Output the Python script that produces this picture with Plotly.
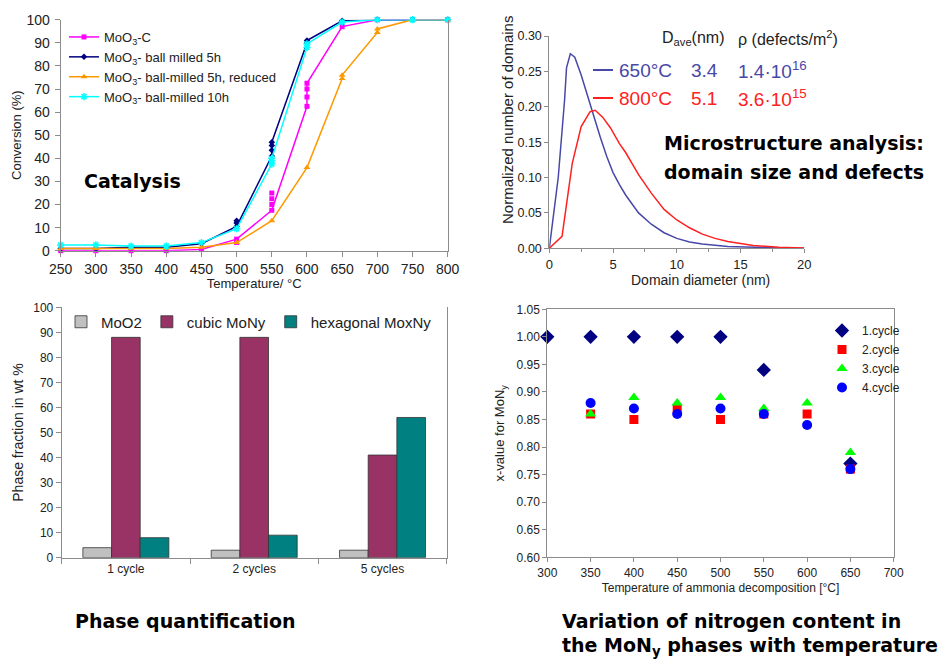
import plotly.graph_objects as go

# ---------------- Data ----------------
# Panel 1: catalysis (conversion % vs temperature)
moo3c_T = [250, 300, 350, 400, 450, 500, 550, 600, 600, 650, 700, 750, 800]
moo3c_Y = [0, 0, 0, 0, 0.5, 5, 17.5, 62.5, 72.5, 97, 100, 100, 100]
moo3c_rep_T = [500, 550, 550, 550, 600, 600]
moo3c_rep_Y = [3.5, 20, 22.5, 25, 66.5, 70]

bm5_T = [250, 300, 350, 400, 450, 500, 550, 550, 600, 600, 650, 700, 750, 800]
bm5_Y = [1, 1, 1.5, 1.5, 3, 10.5, 41, 47, 90, 91, 99.5, 100, 100, 100]
bm5_rep_T = [500, 500, 550, 550]
bm5_rep_Y = [12, 13, 43.5, 45.5]

bm5red_T = [250, 300, 350, 400, 450, 500, 550, 600, 650, 650, 700, 700, 750, 800]
bm5red_Y = [1, 1, 1, 1, 1.5, 3.5, 13, 36, 74.5, 76, 94.5, 96, 100, 100]

bm10_T = [250, 300, 350, 400, 450, 500, 550, 550, 600, 600, 650, 700, 750, 800]
bm10_Y = [2.5, 2.5, 2, 2, 3.5, 9.5, 37.5, 40, 88, 89.5, 99, 100, 100, 100]
bm10_rep_T = [550]
bm10_rep_Y = [39]

# Panel 2: domain size distributions
d_650 = [0, 0.7, 1.2, 1.35, 1.65, 2.0, 2.5, 3, 3.5, 4, 4.5, 5, 5.5, 6, 7, 8, 9, 10, 11, 12, 14, 16, 18, 20]
n_650 = [0, 0.10, 0.21, 0.255, 0.275, 0.27, 0.245, 0.215, 0.185, 0.157, 0.13, 0.107, 0.09, 0.075,
         0.05, 0.034, 0.022, 0.014, 0.009, 0.006, 0.0025, 0.001, 0.0004, 0.0001]
d_800 = [0, 1.0, 1.8, 2.5, 3.2, 3.6, 4.2, 4.8, 5.5, 6, 7, 8, 9, 10, 11, 12, 13, 14, 16, 18, 20]
n_800 = [0, 0.017, 0.12, 0.172, 0.193, 0.195, 0.185, 0.17, 0.148, 0.135, 0.104, 0.078, 0.055,
         0.04, 0.029, 0.02, 0.014, 0.0095, 0.004, 0.0015, 0.0005]

# Panel 3: phase quantification
phase_cats = ["1 cycle", "2 cycles", "5 cycles"]
moo2 = [4, 3, 3]
cubic_mony = [88, 88, 41]
hex_moxny = [8, 9, 56]

# Panel 4: nitrogen content
n_temps = [300, 350, 400, 450, 500, 550, 600, 650]
cycle1 = [1.00, 1.00, 1.00, 1.00, 1.00, 0.94, None, 0.77]
cycle2 = [None, 0.86, 0.85, 0.87, 0.85, 0.86, 0.86, 0.76]
cycle3 = [None, 0.86, 0.89, 0.88, 0.89, 0.87, 0.88, 0.79]
cycle4 = [None, 0.88, 0.87, 0.86, 0.87, 0.86, 0.84, 0.76]

# ---------------- Helpers ----------------
W, H = 952, 661
def fx(p):
    return p / W
def fy(p):
    return 1 - p / H

FONT = "Liberation Sans, Arial, sans-serif"
BOLD = "DejaVu Sans, Verdana, sans-serif"
AX = "#8c8c8c"
TXT = "#222222"

fig = go.Figure()

# ---------------- Panel 1 ----------------
MAG, NAVY, ORG, CYAN = "#ff00ff", "#000080", "#ff9900", "#00ffff"
fig.add_trace(go.Scatter(x=moo3c_T, y=moo3c_Y, mode="lines+markers", name="MoO<sub>3</sub>-C",
                         line=dict(color=MAG, width=1.5), marker=dict(symbol="square", size=5, color=MAG),
                         xaxis="x", yaxis="y", legend="legend", cliponaxis=False))
fig.add_trace(go.Scatter(x=moo3c_rep_T, y=moo3c_rep_Y, mode="markers", showlegend=False,
                         marker=dict(symbol="square", size=5, color=MAG), xaxis="x", yaxis="y"))
fig.add_trace(go.Scatter(x=bm5_T, y=bm5_Y, mode="lines+markers", name="MoO<sub>3</sub>- ball milled 5h",
                         line=dict(color=NAVY, width=1.5), marker=dict(symbol="diamond", size=5, color=NAVY),
                         xaxis="x", yaxis="y", legend="legend", cliponaxis=False))
fig.add_trace(go.Scatter(x=bm5_rep_T, y=bm5_rep_Y, mode="markers", showlegend=False,
                         marker=dict(symbol="diamond", size=5, color=NAVY), xaxis="x", yaxis="y"))
fig.add_trace(go.Scatter(x=bm5red_T, y=bm5red_Y, mode="lines+markers", name="MoO<sub>3</sub>- ball-milled 5h, reduced",
                         line=dict(color=ORG, width=1.5), marker=dict(symbol="triangle-up", size=6, color=ORG),
                         xaxis="x", yaxis="y", legend="legend", cliponaxis=False))
fig.add_trace(go.Scatter(x=bm10_T, y=bm10_Y, mode="lines+markers", name="MoO<sub>3</sub>- ball-milled 10h",
                         line=dict(color=CYAN, width=1.5),
                         marker=dict(symbol="asterisk-open", size=6, color=CYAN, line=dict(color=CYAN, width=1.5)),
                         xaxis="x", yaxis="y", legend="legend", cliponaxis=False))
fig.add_trace(go.Scatter(x=bm10_rep_T, y=bm10_rep_Y, mode="markers", showlegend=False,
                         marker=dict(symbol="asterisk-open", size=6, color=CYAN, line=dict(color=CYAN, width=1.5)),
                         xaxis="x", yaxis="y"))

# ---------------- Panel 2 ----------------
BLUE2, RED2 = "#4848a8", "#ff2020"
fig.add_trace(go.Scatter(x=d_650, y=n_650, mode="lines", line=dict(color=BLUE2, width=1.5),
                         showlegend=False, xaxis="x2", yaxis="y2"))
fig.add_trace(go.Scatter(x=d_800, y=n_800, mode="lines", line=dict(color=RED2, width=1.5),
                         showlegend=False, xaxis="x2", yaxis="y2"))

# ---------------- Panel 3 ----------------
for vals, name, col in [(moo2, "MoO2", "#c0c0c0"), (cubic_mony, "cubic MoNy", "#993366"),
                        (hex_moxny, "hexagonal MoxNy", "#008080")]:
    fig.add_trace(go.Bar(x=phase_cats, y=vals, name=name, marker=dict(color=col, line=dict(color="#333333", width=0.8)),
                         xaxis="x3", yaxis="y3", legend="legend2"))

# ---------------- Panel 4 ----------------
for vals, name, sym, col, sz in [(cycle1, "1.cycle", "diamond", "#000080", 11),
                                 (cycle2, "2.cycle", "square", "#ff0000", 9),
                                 (cycle3, "3.cycle", "triangle-up", "#00ff00", 10),
                                 (cycle4, "4.cycle", "circle", "#0000ff", 10)]:
    fig.add_trace(go.Scatter(x=n_temps, y=vals, mode="markers", name=name,
                             marker=dict(symbol=sym, size=sz, color=col), cliponaxis=False,
                             xaxis="x4", yaxis="y4", legend="legend3"))

# ---------------- Axes ----------------
def axis(domain, **kw):
    d = dict(domain=domain, showgrid=False, zeroline=False, showline=True, linecolor=AX, linewidth=1,
             ticks="outside", tickcolor=AX, ticklen=5, automargin=False,
             tickfont=dict(family=FONT, size=13, color=TXT),
             title_font=dict(family=FONT, size=13, color=TXT))
    d.update(kw)
    return d

fig.update_layout(
    xaxis=axis([fx(60.7), fx(447.7)], range=[250, 800], dtick=50, tick0=250, anchor="y",
               title=dict(text="Temperature/ °C", standoff=2), tickfont=dict(family=FONT, size=14, color=TXT)),
    yaxis=axis([fy(250.7), fy(19.7)], range=[0, 100], dtick=10, anchor="x", mirror=True,
               title=dict(text="Conversion (%)", standoff=1), tickfont=dict(family=FONT, size=14, color=TXT),
               ticklabelstandoff=2),
    xaxis2=axis([fx(549.3), fx(804.3)], range=[0, 20], dtick=5, anchor="y2", ticklen=4,
                minor=dict(ticks="outside", dtick=2.5, ticklen=3, tickcolor=AX)),
    yaxis2=axis([fy(248.3), fy(36)], range=[0, 0.30], dtick=0.05, tickformat=".2f", anchor="x2", ticklen=4,
                tickfont=dict(family=FONT, size=12.5, color=TXT)),
    xaxis3=axis([fx(61.7), fx(446.7)], anchor="y3", tickson="boundaries", type="category",
                tickfont=dict(family=FONT, size=12, color=TXT)),
    yaxis3=axis([fy(557.7), fy(307.3)], range=[0, 100], dtick=10, anchor="x3", mirror=True,
                title=dict(text="Phase fraction in wt %", font=dict(family=FONT, size=14, color=TXT), standoff=6),
                tickfont=dict(family=FONT, size=12, color=TXT)),
    xaxis4=axis([fx(547.3), fx(893.7)], range=[300, 700], dtick=50, anchor="y4", mirror=True, ticklen=4,
                title=dict(text="Temperature of ammonia decomposition [°C]", font=dict(family=FONT, size=12, color=TXT), standoff=4),
                tickfont=dict(family=FONT, size=12, color=TXT)),
    yaxis4=axis([fy(557.3), fy(309.3)], range=[0.60, 1.05], dtick=0.05, tickformat=".2f", anchor="x4", mirror=True,
                ticklen=4, title=dict(text="x-value for MoN<sub>y</sub>", font=dict(family=FONT, size=13, color=TXT), standoff=8),
                tickfont=dict(family=FONT, size=12, color=TXT)),
    barmode="group", bargap=0.33, bargroupgap=0,
    width=W, height=H, margin=dict(l=0, r=0, t=0, b=0, autoexpand=False),
    paper_bgcolor="white", plot_bgcolor="white",
    font=dict(family=FONT, color=TXT),
    legend=dict(x=fx(64), y=fy(22), xanchor="left", yanchor="top", bgcolor="rgba(255,255,255,0)",
                bordercolor="#d0d0d0", borderwidth=0, font=dict(family=FONT, size=13, color=TXT),
                itemwidth=30, tracegroupgap=0),
    legend2=dict(orientation="h", x=fx(61), y=fy(322), xanchor="left", yanchor="middle",
                 bgcolor="rgba(255,255,255,0)", font=dict(family=FONT, size=15, color=TXT)),
    legend3=dict(x=fx(822), y=fy(316), xanchor="left", yanchor="top", bgcolor="rgba(255,255,255,0)",
                 font=dict(family=FONT, size=12, color=TXT)),
)

# ---------------- Annotations ----------------
ann = []
def add_text(text, x, y, size, color=TXT, family=FONT, xanchor="left", bold=False, angle=0):
    ann.append(dict(text=f"<b>{text}</b>" if bold else text, x=fx(x), y=fy(y), xref="paper", yref="paper",
                    xanchor=xanchor, yanchor="middle", showarrow=False, textangle=angle,
                    font=dict(family=family, size=size, color=color)))

# bold panel captions
add_text("Catalysis", 82, 181, 19, "#000000", BOLD, bold=True)
add_text("Microstructure analysis:", 662, 143, 19, "#000000", BOLD, bold=True)
add_text("domain size and defects", 662, 172, 19, "#000000", BOLD, bold=True)
add_text("Phase quantification", 73, 621, 19, "#000000", BOLD, bold=True)
add_text("Variation of nitrogen content in", 560, 621, 19, "#000000", BOLD, bold=True)
add_text("the MoN<sub>y</sub> phases with temperature", 560, 646, 19, "#000000", BOLD, bold=True)

# panel 2 axis titles
add_text("Normalized number of domains", 507, 120, 15, angle=-90, xanchor="center")
add_text("Domain diameter (nm)", 700, 280, 14, xanchor="center")

# panel 2 table-like legend
add_text("D<sub>ave</sub>(nm)", 660, 38, 16)
add_text("ρ (defects/m<sup>2</sup>)", 736, 38, 16)
add_text("650°C", 617, 70, 19, BLUE2)
add_text("3.4", 689, 70, 19, BLUE2)
add_text("1.4·10<sup>16</sup>", 736, 70, 19, BLUE2)
add_text("800°C", 617, 98, 19, RED2)
add_text("5.1", 689, 98, 19, RED2)
add_text("3.6·10<sup>15</sup>", 736, 98, 19, RED2)

fig.update_layout(annotations=ann)
fig.add_shape(type="line", xref="paper", yref="paper", x0=fx(593), x1=fx(613), y0=fy(70), y1=fy(70),
              line=dict(color=BLUE2, width=2))
fig.add_shape(type="line", xref="paper", yref="paper", x0=fx(593), x1=fx(613), y0=fy(98), y1=fy(98),
              line=dict(color=RED2, width=2))

# remove the default page margin so the figure fills the window exactly
fig.write_html("out.html", config={"displayModeBar": False},
               post_script="document.body.style.margin='0';document.body.style.overflow='hidden';")
